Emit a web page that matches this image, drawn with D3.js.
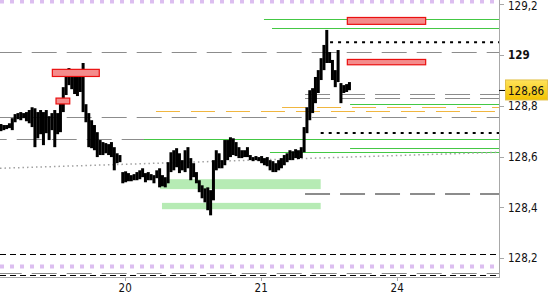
<!DOCTYPE html>
<html lang="en">
<head>
<meta charset="UTF-8">
<title>Chart</title>
<script src="https://d3js.org/d3.v7.min.js"></script>
<style>
    body { margin: 0; background: #fff; }
    svg text { font-family: "DejaVu Sans Condensed", "DejaVu Sans", sans-serif; font-stretch: condensed; font-size: 11.5px; fill: #111; }
    .axis path, .axis line { stroke: #a8a8a8; shape-rendering: crispEdges; }
</style>
</head>
<body>
<svg width="550" height="300"></svg>
<script>
// trading days shown on the x axis (19 = 0, 20 = 1, 21 = 2, 24 = 3)
var dayTicks = [1, 2, 3];
var dayLabels = ["20", "21", "24"];
var priceTicks = [128.2, 128.4, 128.6, 128.8, 129, 129.2];
var lastPrice = 128.86;

// half-hour bars, first one at day index 0.09
var barStart = 0.09;
var barStep = 1 / 48;
var high = [128.728, 128.724, 128.724, 128.731, 128.751, 128.767, 128.771, 128.775, 128.771, 128.775,
            128.783, 128.794, 128.790, 128.775, 128.783, 128.775, 128.783, 128.759, 128.771, 128.783,
            128.771, 128.822, 128.873, 128.940, 128.948, 128.932, 128.920, 128.924, 128.940, 128.968,
            128.806, 128.771, 128.743, 128.724, 128.696, 128.665, 128.657, 128.653, 128.649, 128.657,
            128.637, 128.613, 128.606, 128.539, 128.542, 128.535, 128.527, 128.531, 128.539, 128.546,
            128.554, 128.535, 128.539, 128.531, 128.527, 128.546, 128.554, 128.527, 128.519, 128.578,
            128.617, 128.625, 128.633, 128.613, 128.586, 128.625, 128.637, 128.594, 128.574, 128.539,
            128.507, 128.487, 128.475, 128.479, 128.468, 128.586, 128.625, 128.613, 128.586, 128.665,
            128.665, 128.676, 128.672, 128.657, 128.637, 128.625, 128.625, 128.637, 128.606, 128.598,
            128.602, 128.598, 128.602, 128.594, 128.598, 128.586, 128.582, 128.574, 128.586, 128.594,
            128.606, 128.613, 128.625, 128.621, 128.629, 128.625, 128.637, 128.716, 128.794, 128.861,
            128.869, 128.913, 128.940, 128.987, 129.039, 129.098, 129.011, 128.980, 128.940, 129.019,
            128.889, 128.881, 128.885, 128.893];
var low  = [128.700, 128.704, 128.708, 128.712, 128.704, 128.735, 128.747, 128.743, 128.751, 128.739,
            128.731, 128.716, 128.637, 128.672, 128.688, 128.645, 128.692, 128.665, 128.704, 128.637,
            128.688, 128.696, 128.775, 128.842, 128.881, 128.865, 128.846, 128.838, 128.854, 128.775,
            128.735, 128.637, 128.633, 128.625, 128.598, 128.606, 128.606, 128.613, 128.606, 128.598,
            128.546, 128.574, 128.578, 128.495, 128.499, 128.503, 128.503, 128.507, 128.507, 128.511,
            128.519, 128.499, 128.507, 128.507, 128.495, 128.515, 128.479, 128.483, 128.479, 128.495,
            128.539, 128.546, 128.558, 128.535, 128.546, 128.539, 128.554, 128.507, 128.519, 128.495,
            128.460, 128.436, 128.420, 128.389, 128.369, 128.428, 128.546, 128.554, 128.554, 128.566,
            128.586, 128.598, 128.606, 128.602, 128.594, 128.594, 128.598, 128.598, 128.586, 128.582,
            128.586, 128.582, 128.574, 128.566, 128.562, 128.546, 128.539, 128.539, 128.546, 128.554,
            128.566, 128.578, 128.586, 128.586, 128.594, 128.590, 128.594, 128.617, 128.692, 128.743,
            128.771, 128.810, 128.850, 128.901, 128.940, 128.968, 128.968, 128.901, 128.873, 128.893,
            128.810, 128.850, 128.854, 128.861];

// horizontal levels: [price, start day index]
var grayDashFull = [[129.010, 0, 3.3], [128.754, 0, 3.3], [128.668, 0, 18.3], [128.141, 0, 3.3]];
var grayDashLate = [128.848, 128.829, 128.458, 128.452];
var grayDashLateStart = 2.326;
var orangeLevels = [[128.795, 2.157], [128.779, 1.23]];
var greenLevels = [[129.140, 2.024], [129.105, 2.083], [128.805, 2.657], [128.671, 1.142], [128.632, 2.657], [128.619, 2.068]];
var blackDotLevels = [[129.050, 2.51], [128.693, 2.441]];
var blackDashLevels = [128.218, 128.136];
var purpleLevels = [129.212, 128.170];
var trendLine = [[0.083, 128.554], [3.752, 128.617]];
// zones: [from, to, top, bottom]
var greenZones = [[1.26, 2.441, 128.511, 128.472], [1.274, 2.441, 128.418, 128.393]];
var redZones = [[0.468, 0.813, 128.943, 128.915], [0.495, 0.596, 128.830, 128.807],
                [2.637, 3.213, 129.147, 129.120], [2.637, 3.213, 128.982, 128.961]];

var W = 499, H = 277;
var x = d3.scaleLinear().domain([1, 3]).range([124.7, 396.7]);
var y = d3.scaleLinear().domain([128.2, 129.2]).range([258.3, 4]);
var xEnd = x.invert(W);
var xBeg = x.invert(0);

var svg = d3.select("svg");
var defs = svg.append("defs");
defs.append("clipPath").attr("id", "plot").append("rect").attr("width", W).attr("height", H);
var grad = defs.append("linearGradient").attr("id", "gold").attr("x1", 0).attr("y1", 0).attr("x2", 0).attr("y2", 1);
grad.append("stop").attr("offset", "0%").attr("stop-color", "#ffe35a");
grad.append("stop").attr("offset", "100%").attr("stop-color", "#f2c200");

var g = svg.append("g").attr("clip-path", "url(#plot)");

function hline(v, from) {
    return g.append("line")
        .attr("x1", x(from)).attr("x2", x(xEnd))
        .attr("y1", Math.round(y(v)) + 0.5).attr("y2", Math.round(y(v)) + 0.5);
}

// zones
g.selectAll(".gz").data(greenZones).enter().append("rect")
    .attr("x", d => x(d[0])).attr("width", d => x(d[1]) - x(d[0]))
    .attr("y", d => y(d[2])).attr("height", d => y(d[3]) - y(d[2]))
    .attr("fill", "#b6ebb4");

// levels
purpleLevels.forEach(v => hline(v, xBeg).attr("stroke", "#dcbef0").attr("stroke-width", 4).attr("stroke-dasharray", "4,6"));
grayDashFull.forEach(d => hline(d[0], xBeg).attr("stroke", "#8c8c8c").attr("stroke-dasharray", "25,10").attr("stroke-dashoffset", d[2]));
grayDashLate.forEach(v => hline(v, grayDashLateStart).attr("stroke", "#8c8c8c").attr("stroke-dasharray", "25,10"));
orangeLevels.forEach(d => hline(d[0], d[1]).attr("stroke", "#f0b640").attr("stroke-dasharray", "24,11"));
greenLevels.forEach(d => hline(d[0], d[1]).attr("stroke", "#44c844"));
blackDashLevels.forEach(v => hline(v, xBeg).attr("stroke", "#000").attr("stroke-dasharray", "6,4"));
blackDotLevels.forEach(d => g.append("line")
    .attr("x1", x(d[1])).attr("x2", x(xEnd)).attr("y1", y(d[0])).attr("y2", y(d[0]))
    .attr("stroke", "#000").attr("stroke-width", 2).attr("stroke-dasharray", "3,5"));

g.append("line")
    .attr("x1", x(trendLine[0][0])).attr("y1", y(trendLine[0][1]))
    .attr("x2", x(trendLine[1][0])).attr("y2", y(trendLine[1][1]))
    .attr("stroke", "#a0a0a0").attr("stroke-width", 1.5).attr("stroke-dasharray", "1.5,3");

// price bars
g.selectAll(".bar").data(high).enter().append("rect")
    .attr("x", (d, i) => x(barStart + i * barStep) - 1.5)
    .attr("width", 3)
    .attr("y", d => y(d))
    .attr("height", (d, i) => Math.max(2, y(low[i]) - y(d)))
    .attr("fill", "#000");

// resistance boxes
g.selectAll(".rz").data(redZones).enter().append("rect")
    .attr("x", d => x(d[0])).attr("width", d => x(d[1]) - x(d[0]))
    .attr("y", d => y(d[2])).attr("height", d => y(d[3]) - y(d[2]))
    .attr("fill", "#f48c8c").attr("stroke", "#ea1010").attr("stroke-width", 1.2);

// axes
var fmt = v => d3.format("~g")(v).replace(".", ",");
var yAxis = svg.append("g").attr("class", "axis").attr("transform", "translate(" + W + ",0)")
    .call(d3.axisRight(y).tickValues(priceTicks).tickSize(5).tickPadding(4).tickFormat(fmt));
yAxis.select(".domain").remove();
yAxis.selectAll("text").filter(d => d === 129).style("font-weight", "bold");
yAxis.selectAll("text").filter(d => d === 129.2).attr("dy", "0.45em");

svg.append("line").attr("x1", W + 0.5).attr("x2", W + 0.5).attr("y1", 0).attr("y2", H)
    .attr("stroke", "#a8a8a8");

var xAxis = svg.append("g").attr("class", "axis").attr("transform", "translate(0," + H + ")")
    .call(d3.axisBottom(x).tickValues(dayTicks).tickSize(4).tickPadding(3).tickFormat((d, i) => dayLabels[i]));
xAxis.select(".domain").attr("d", "M0,0.5H" + (W + 1));

// last price marker
var ly = y(lastPrice);
svg.append("line").attr("x1", W).attr("x2", W + 6).attr("y1", ly).attr("y2", ly).attr("stroke", "#000");
svg.append("rect").attr("x", 505.5).attr("y", ly - 10.5).attr("width", 42).attr("height", 20)
    .attr("fill", "url(#gold)").attr("stroke", "#e2c04a");
svg.append("text").attr("x", 508).attr("y", ly + 4.5).text(fmt(lastPrice));
</script>
</body>
</html>
